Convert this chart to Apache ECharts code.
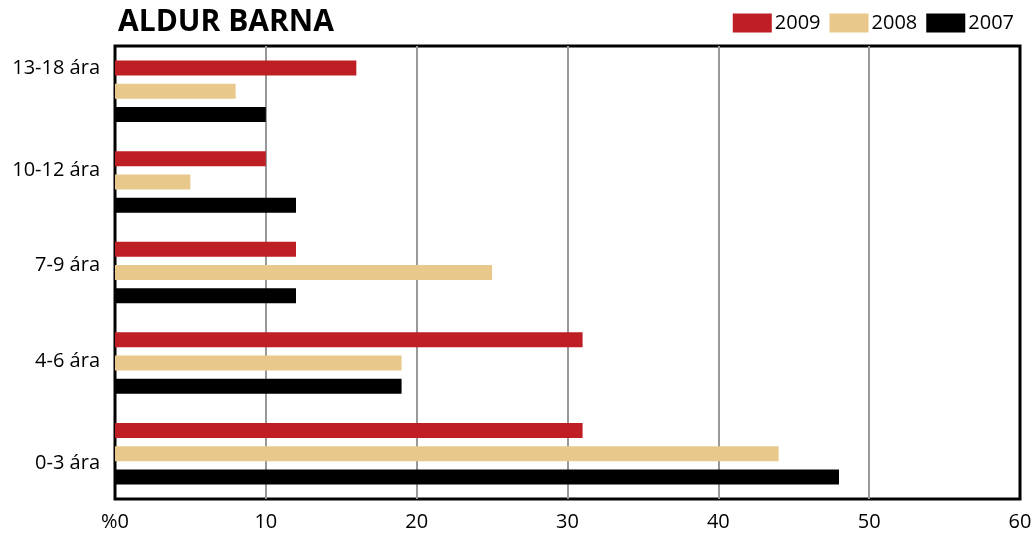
<!DOCTYPE html>
<html>
<head>
<meta charset="utf-8">
<script src="https://cdn.jsdelivr.net/npm/echarts@6/dist/echarts.min.js"></script>
<style>
  html, body { margin: 0; padding: 0; background: #fff; }
  #chart { width: 1035px; height: 538px; }
</style>
</head>
<body>
<div id="chart"></div>
<script>
// aldursflokkar, neðst fyrst
var flokkar = ['0-3 ára', '4-6 ára', '7-9 ára', '10-12 ára', '13-18 ára'];
var ar2009 = [31, 31, 12, 10, 16];
var ar2008 = [44, 19, 25, 5, 8];
var ar2007 = [48, 19, 12, 12, 10];
var xTicks = [0, 10, 20, 30, 40, 50, 60];

var font = '"Open Sans", "Noto Sans", sans-serif';
var chart = echarts.init(document.getElementById('chart'));

// merkin eru ekki alveg fyrir miðju hópanna á myndinni
var hlidrun = [10, -2, -7, -12, -23];
var rich = { t: { fontFamily: font, fontSize: 20, color: '#000', lineHeight: 24 } };
hlidrun.forEach(function (d, i) {
    rich['g' + i] = { height: 2 * Math.abs(d), lineHeight: 2 * Math.abs(d), fontSize: 1 };
});

var option = {
    animation: false,
    title: {
        text: 'ALDUR BARNA',
        left: 113,
        top: 2,
        textStyle: { fontFamily: font, fontSize: 30, fontWeight: 'bold', color: '#000' }
    },
    legend: {
        data: ['2009', '2008', '2007'],
        icon: 'rect',
        right: 16,
        top: 8,
        itemWidth: 39,
        itemHeight: 19,
        itemGap: 9,
        textStyle: { fontFamily: font, fontSize: 20, color: '#000', padding: [0, 0, 0, -2] }
    },
    grid: {
        left: 115,
        right: 15,
        top: 46,
        bottom: 39,
        show: true,
        borderColor: '#000',
        borderWidth: 3,
        containLabel: false
    },
    xAxis: {
        type: 'value',
        min: xTicks[0],
        max: xTicks[xTicks.length - 1],
        interval: 10,
        axisLine: { show: false },
        axisTick: { show: false },
        splitLine: { show: true, showMinLine: false, showMaxLine: false, lineStyle: { color: '#999', width: 2 } },
        axisLabel: {
            fontFamily: font, fontSize: 20, color: '#000', margin: 13,
            formatter: function (v) { return v === 0 ? '%0' : String(v); }
        }
    },
    yAxis: {
        type: 'category',
        data: flokkar,
        axisLine: { show: false },
        axisTick: { show: false },
        splitLine: { show: false },
        axisLabel: {
            margin: 15,
            rich: rich,
            formatter: function (v, i) {
                var d = hlidrun[i];
                var bil = '{g' + i + '|}';
                return d < 0 ? '{t|' + v + '}\n' + bil : bil + '\n{t|' + v + '}';
            }
        }
    },
    series: [
        { name: '2009', type: 'bar', data: ar2009, barWidth: 15, barGap: '55%',
          itemStyle: { color: '#BE1E24' } },
        { name: '2008', type: 'bar', data: ar2008, barWidth: 15, barGap: '55%',
          itemStyle: { color: '#E8C98B' } },
        { name: '2007', type: 'bar', data: ar2007, barWidth: 15, barGap: '55%',
          itemStyle: { color: '#000000' } }
    ]
};
chart.setOption(option);
</script>
</body>
</html>
